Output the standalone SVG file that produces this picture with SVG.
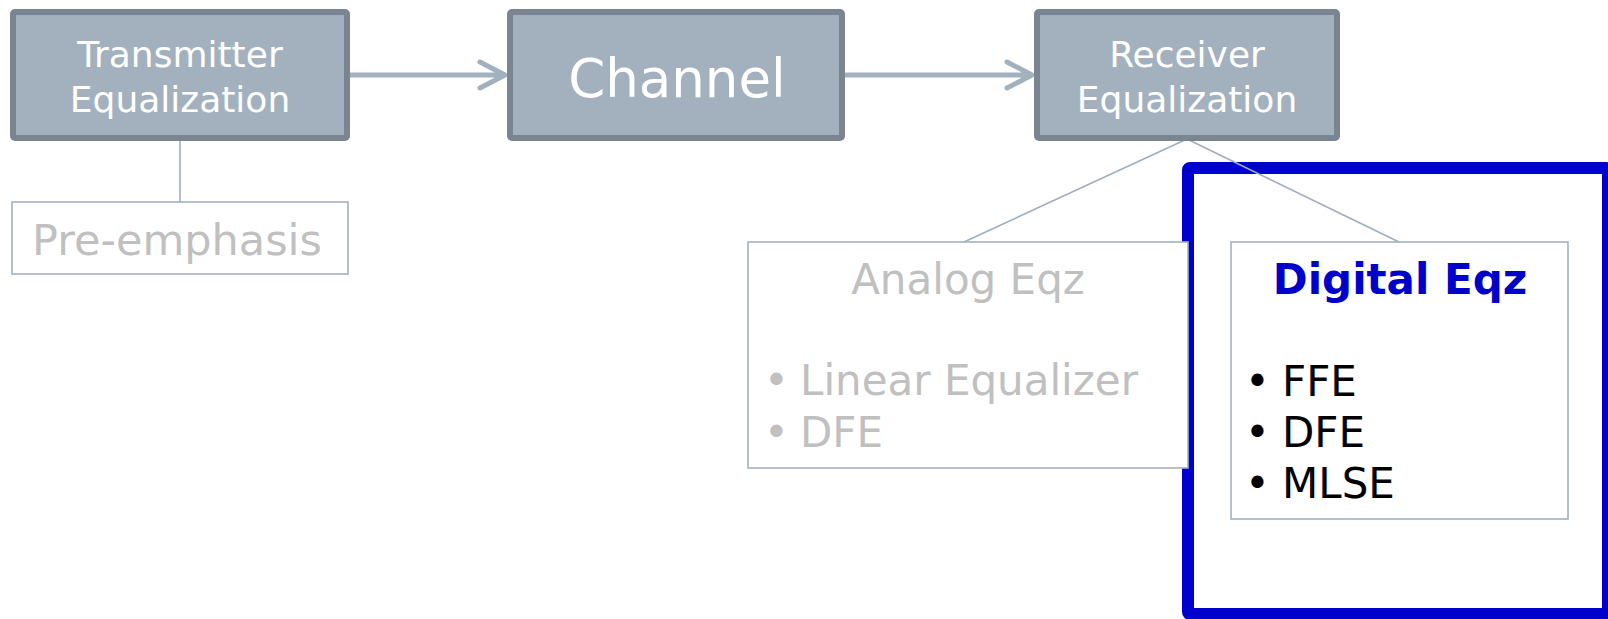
<svg xmlns="http://www.w3.org/2000/svg" width="1608" height="619" viewBox="0 0 1608 619">
<style>
.blk{fill:#a3b1bf;stroke:#7b8591;stroke-width:6}
.sub{fill:#ffffff;stroke:#a3b1bf;stroke-width:1.6}
.wt{fill:#ffffff;font-family:"DejaVu Sans",Verdana,sans-serif;text-anchor:middle}
.gt{fill:#c0c0c0;font-family:"DejaVu Sans",Verdana,sans-serif;font-size:42px}
.kt{fill:#000000;font-family:"DejaVu Sans",Verdana,sans-serif;font-size:42px}
.arr{fill:none;stroke:#a3b1bf;stroke-width:5;stroke-linecap:round;stroke-linejoin:round}
.ln{fill:none;stroke:#9eadbf;stroke-width:1.6}
</style>
<rect width="1608" height="619" fill="#ffffff"/>
<g id="highlight">
<rect x="1188" y="168" width="420" height="446" fill="none" stroke="#0000cc" stroke-width="12" rx="2"/>
</g>
<g id="connectors">
<path class="arr" d="M350 75 H504 M480 62 L505 75 L480 88"/>
<path class="arr" d="M845 75 H1031 M1007 62 L1032 75 L1007 88"/>
<path class="ln" d="M180 141 V202"/>
<path class="ln" d="M1187 139 L964 242"/>
<path class="ln" d="M1187 139 L1399 242"/>
</g>
<g id="tx">
<rect class="blk" x="13" y="12" width="334" height="126" rx="2"/>
<text class="wt" x="180" y="67" font-size="36">Transmitter</text>
<text class="wt" x="180" y="112" font-size="36">Equalization</text>
</g>
<g id="channel">
<rect class="blk" x="510" y="12" width="332" height="126" rx="2"/>
<text class="wt" x="677" y="97" font-size="53">Channel</text>
</g>
<g id="rx">
<rect class="blk" x="1037" y="12" width="300" height="126" rx="2"/>
<text class="wt" x="1187" y="67" font-size="36">Receiver</text>
<text class="wt" x="1187" y="112" font-size="36">Equalization</text>
</g>
<g id="preemphasis">
<rect class="sub" x="12" y="202" width="336" height="72"/>
<text class="gt" x="177" y="255" text-anchor="middle" style="font-size:43px">Pre-emphasis</text>
</g>
<g id="analog">
<rect class="sub" x="748" y="242" width="440" height="226"/>
<text class="gt" x="968" y="294" text-anchor="middle">Analog Eqz</text>
<text class="gt" x="764" y="395">•</text>
<text class="gt" x="800" y="395">Linear Equalizer</text>
<text class="gt" x="764" y="447">•</text>
<text class="gt" x="800" y="447">DFE</text>
</g>
<g id="digital">
<rect class="sub" x="1231" y="242" width="337" height="277"/>
<text x="1400" y="294" text-anchor="middle" font-family="'DejaVu Sans',Verdana,sans-serif" font-size="42" font-weight="bold" fill="#0000cc">Digital Eqz</text>
<text class="kt" x="1245" y="396">•</text>
<text class="kt" x="1282" y="396">FFE</text>
<text class="kt" x="1245" y="447">•</text>
<text class="kt" x="1282" y="447">DFE</text>
<text class="kt" x="1245" y="498">•</text>
<text class="kt" x="1282" y="498">MLSE</text>
</g>
</svg>
